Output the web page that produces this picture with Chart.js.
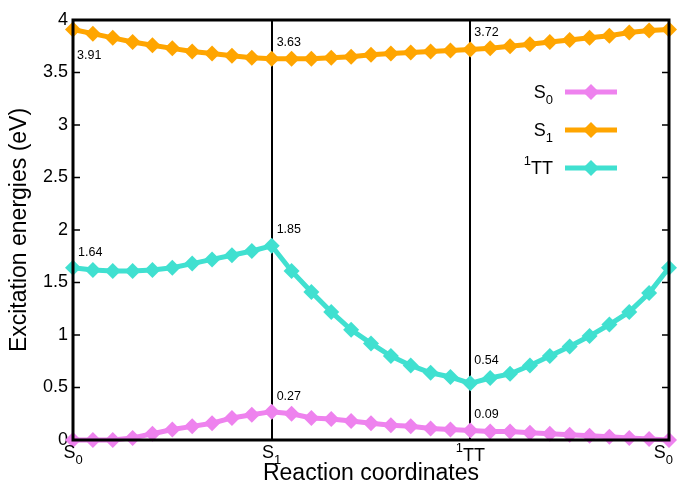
<!DOCTYPE html>
<html>
<head>
<meta charset="utf-8">
<title>Excitation energies</title>
<script src="https://cdn.jsdelivr.net/npm/chart.js@4.4.1/dist/chart.umd.min.js"></script>
<style>
  html, body { margin: 0; padding: 0; background: #fff; }
  #wrap { width: 678px; height: 484px; }
</style>
</head>
<body>
<div id="wrap"><canvas id="energyChart" width="678" height="484"></canvas></div>
<script>
// reaction coordinate steps: S0 -> S1 -> 1TT -> S0, 10 steps per leg
const steps = [0, 1, 2, 3, 4, 5, 6, 7, 8, 9, 10, 11, 12, 13, 14, 15, 16, 17, 18, 19, 20,
  21, 22, 23, 24, 25, 26, 27, 28, 29, 30];
const xTickValues = [0, 10, 20, 30];
const xTickLabels = ["S_0", "S_1", "^1TT", "S_0"];
const yTickMin = 0, yTickMax = 4, yTickStep = 0.5;

const seriesNames = ["S_0", "S_1", "^1TT"];
const s0Values = [0.00, 0.00, 0.00, 0.02, 0.06, 0.10, 0.13, 0.16, 0.21, 0.24, 0.27,
  0.25, 0.21, 0.20, 0.18, 0.16, 0.14, 0.13, 0.11, 0.10, 0.09,
  0.08, 0.08, 0.07, 0.06, 0.05, 0.04, 0.03, 0.02, 0.01, 0.00];
const s1Values = [3.91, 3.87, 3.83, 3.79, 3.76, 3.73, 3.70, 3.68, 3.66, 3.64, 3.63,
  3.63, 3.63, 3.64, 3.65, 3.67, 3.68, 3.69, 3.70, 3.71, 3.72,
  3.73, 3.75, 3.77, 3.79, 3.81, 3.83, 3.85, 3.88, 3.90, 3.91];
const ttValues = [1.64, 1.62, 1.61, 1.61, 1.62, 1.64, 1.68, 1.72, 1.76, 1.80, 1.85,
  1.61, 1.41, 1.22, 1.05, 0.92, 0.80, 0.71, 0.64, 0.60, 0.54,
  0.59, 0.63, 0.71, 0.80, 0.89, 0.99, 1.10, 1.22, 1.40, 1.64];
// points that get their value written next to them, per series
const markedSteps = [[10, 20], [0, 10, 20], [0, 10, 20]];

const FONT = '"Liberation Sans", Arial, Helvetica, sans-serif';
const colors = ["#ee82ee", "#ffa500", "#40e0d0"];
// label offsets (px) per series, per marked step
const labelOffsets = [
  [[5, -12], [4, -13]],
  [[4, 30], [5, -13], [4, -13]],
  [[5, -12], [5, -13], [4, -19]]
];

function parseRich(s) {
  const parts = [];
  const re = /([_^])(.)|([^_^]+)/g;
  let m;
  while ((m = re.exec(s)) !== null) {
    if (m[1]) parts.push({ t: m[2], mode: m[1] === "_" ? "sub" : "sup" });
    else parts.push({ t: m[3], mode: "n" });
  }
  return parts;
}

function drawRich(ctx, text, x, y, align, size) {
  const parts = parseRich(text);
  const small = Math.round(size * 0.72);
  let width = 0;
  parts.forEach(p => {
    ctx.font = (p.mode === "n" ? size : small) + "px " + FONT;
    p.w = ctx.measureText(p.t).width;
    width += p.w;
  });
  let cx = align === "right" ? x - width : align === "center" ? x - width / 2 : x;
  ctx.textAlign = "left";
  ctx.textBaseline = "alphabetic";
  parts.forEach(p => {
    ctx.font = (p.mode === "n" ? size : small) + "px " + FONT;
    const dy = p.mode === "sub" ? size * 0.36 : p.mode === "sup" ? -size * 0.48 : 0;
    ctx.fillText(p.t, cx, y + dy);
    cx += p.w;
  });
}

const toXY = vals => vals.map((v, i) => ({ x: steps[i], y: v }));

const framePlugin = {
  id: "frame",
  afterDatasetsDraw(chart) {
    const { ctx, chartArea: a, scales: { x, y } } = chart;
    ctx.save();
    ctx.strokeStyle = "#000";
    ctx.fillStyle = "#000";

    // inward y ticks on both sides
    ctx.lineWidth = 1.5;
    y.ticks.forEach(t => {
      const py = y.getPixelForValue(t.value);
      ctx.beginPath();
      ctx.moveTo(a.left, py); ctx.lineTo(a.left + 7, py);
      ctx.moveTo(a.right, py); ctx.lineTo(a.right - 7, py);
      ctx.stroke();
    });

    ctx.lineWidth = 3;
    ctx.strokeRect(a.left, a.top, a.right - a.left, a.bottom - a.top);

    // value labels at the marked points
    chart.data.datasets.forEach((ds, di) => {
      const meta = chart.getDatasetMeta(di);
      markedSteps[di].forEach((s, k) => {
        const pt = meta.data[s];
        const off = labelOffsets[di][k];
        ctx.font = "12.5px " + FONT;
        ctx.textAlign = "left";
        ctx.textBaseline = "alphabetic";
        ctx.fillText(ds.data[s].y.toFixed(2), pt.x + off[0], pt.y + off[1]);
      });
    });

    // x tick labels
    xTickValues.forEach((v, i) => {
      const px = x.getPixelForValue(v);
      const lbl = xTickLabels[i];
      const base = lbl.startsWith("^") ? 461 : 458;
      if (i === xTickValues.length - 1) drawRich(ctx, lbl, 673, base, "right", 18);
      else drawRich(ctx, lbl, px, base, "center", 18);
    });

    // axis titles
    ctx.font = "23px " + FONT;
    ctx.textAlign = "center";
    ctx.textBaseline = "alphabetic";
    ctx.fillText("Reaction coordinates", (a.left + a.right) / 2, 480);
    ctx.save();
    ctx.translate(26, (a.top + a.bottom) / 2);
    ctx.rotate(-Math.PI / 2);
    ctx.fillText("Excitation energies (eV)", 0, 0);
    ctx.restore();

    // legend: label, then line sample with diamond
    chart.data.datasets.forEach((ds, di) => {
      const ly = 92 + di * 38;
      drawRich(ctx, seriesNames[di], 553, ly + 6, "right", 18);
      ctx.strokeStyle = ds.borderColor;
      ctx.lineWidth = 5;
      ctx.beginPath();
      ctx.moveTo(565, ly); ctx.lineTo(617, ly);
      ctx.stroke();
      ctx.fillStyle = ds.borderColor;
      ctx.beginPath();
      ctx.moveTo(591, ly - 8); ctx.lineTo(599, ly); ctx.lineTo(591, ly + 8); ctx.lineTo(583, ly);
      ctx.closePath();
      ctx.fill();
      ctx.fillStyle = "#000";
    });
    ctx.restore();
  }
};

const datasets = [s0Values, s1Values, ttValues].map((vals, i) => ({
  label: seriesNames[i],
  data: toXY(vals),
  borderColor: colors[i],
  backgroundColor: colors[i],
  borderWidth: 5,
  pointStyle: "rectRot",
  pointRadius: 8,
  pointBorderWidth: 0,
  pointBackgroundColor: colors[i],
  tension: 0,
  clip: false
}));

new Chart(document.getElementById("energyChart").getContext("2d"), {
  type: "line",
  data: { datasets: datasets },
  options: {
    responsive: false,
    animation: false,
    devicePixelRatio: 1,
    layout: { padding: { top: 20, right: 9, left: 0, bottom: 0 } },
    plugins: { legend: { display: false }, tooltip: { enabled: false } },
    scales: {
      x: {
        type: "linear",
        min: steps[0],
        max: steps[steps.length - 1],
        afterFit: s => { s.height = 44; },
        afterBuildTicks: s => { s.ticks = xTickValues.map(v => ({ value: v })); },
        border: { display: false },
        grid: {
          drawTicks: false,
          lineWidth: 2,
          color: c => (c.tick && c.tick.value > steps[0] && c.tick.value < steps[steps.length - 1]) ? "#000" : "rgba(0,0,0,0)"
        },
        ticks: { display: false }
      },
      y: {
        min: yTickMin,
        max: yTickMax,
        afterFit: s => { s.width = 73; },
        border: { display: false },
        grid: { display: false, drawTicks: false },
        ticks: {
          stepSize: yTickStep,
          padding: 5,
          color: "#000",
          font: { family: FONT, size: 18 },
          callback: v => String(v)
        }
      }
    }
  },
  plugins: [framePlugin]
});
</script>
</body>
</html>
